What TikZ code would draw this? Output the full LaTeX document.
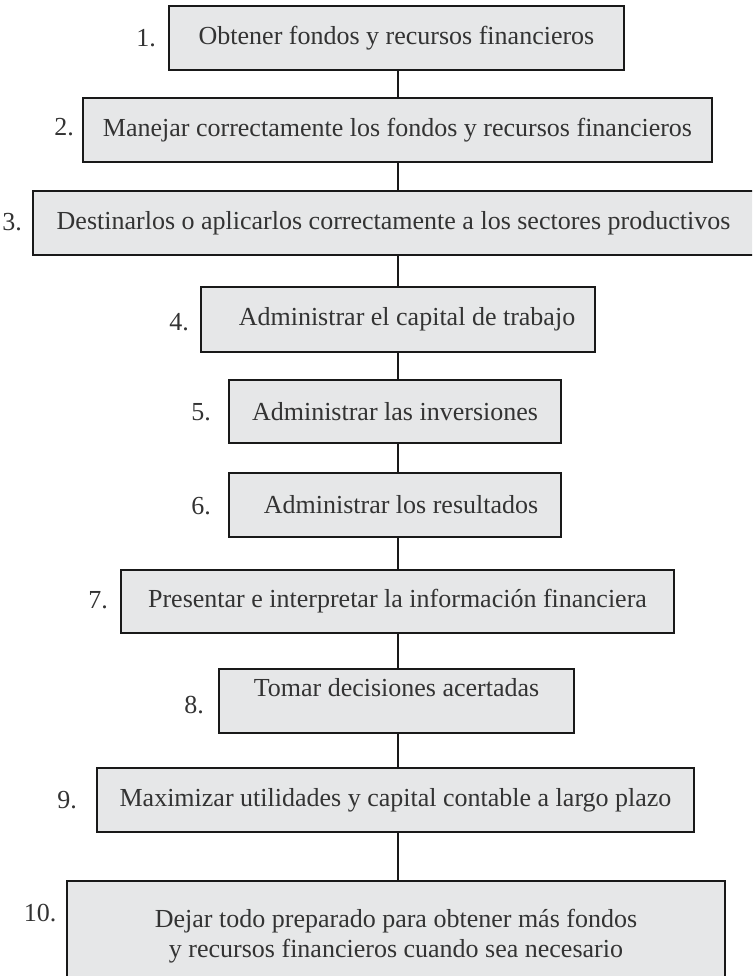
\documentclass[tikz,border=0pt]{standalone}
\usepackage{fontspec}
\setmainfont{Liberation Serif}
\definecolor{cajagris}{HTML}{E6E7E8}
\definecolor{letra}{HTML}{333333}
\tikzset{
  paso/.style={draw=black!90, line width=1.6pt, fill=cajagris, inner sep=0pt,
    text=letra, align=center, font=\fontsize{26}{30}\selectfont},
  num/.style={text=letra, inner sep=0pt, font=\fontsize{26}{30}\selectfont},
  liga/.style={line width=1.4pt, draw=black!90}
}
\begin{document}
\begin{tikzpicture}[x=1pt,y=-1pt]
	\clip (0,0) rectangle (752,976);
	\coordinate (eje) at (398,0);
	\node [paso,minimum width=455,minimum height=64] at (396.5,38) (b1) {Obtener fondos y recursos financieros};
	\node [paso,minimum width=629,minimum height=64] at (397.5,130) (b2) {Manejar correctamente los fondos y recursos financieros};
	\node [paso,minimum width=721,minimum height=64] at (393.5,223) (b3) {Destinarlos o aplicarlos correctamente a los sectores productivos};
	\node [paso,minimum width=394,minimum height=65] at (398,319.5) (b4) {\hspace{18pt}Administrar el capital de trabajo};
	\node [paso,minimum width=332,minimum height=63] at (395,411.5) (b5) {Administrar las inversiones};
	\node [paso,minimum width=332,minimum height=64] at (395,505) (b6) {\hspace{12pt}Administrar los resultados};
	\node [paso,minimum width=553,minimum height=63] at (397.5,601.5) (b7) {Presentar e interpretar la información financiera};
	\node [paso,minimum width=355,minimum height=64] at (396.5,701) (b8) {\raisebox{5pt}[0pt][0pt]{Tomar decisiones acertadas}};
	\node [paso,minimum width=597,minimum height=64] at (395.5,800) (b9) {Maximizar utilidades y capital contable a largo plazo};
	\node [paso,minimum width=658,minimum height=111] at (396,936.5) (b10) {Dejar todo preparado para obtener más fondos\\y recursos financieros cuando sea necesario};
	% numeros de cada paso
	\foreach \i/\x/\y in {1/146/38, 2/64/127, 3/12/222, 4/179/322, 5/201/412, 6/201/506, 7/98/600, 8/194/705, 9/67/800, 10/40/913}{
		\node [num] at (\x,\y) (n\i) {\i.};
	}
	% lineas entre pasos
	\foreach \a/\b in {b1/b2, b2/b3, b3/b4, b4/b5, b5/b6, b6/b7, b7/b8, b8/b9, b9/b10}{
		\draw [liga] (\a.south -| eje) -- (\b.north -| eje);
	}
\end{tikzpicture}
\end{document}
